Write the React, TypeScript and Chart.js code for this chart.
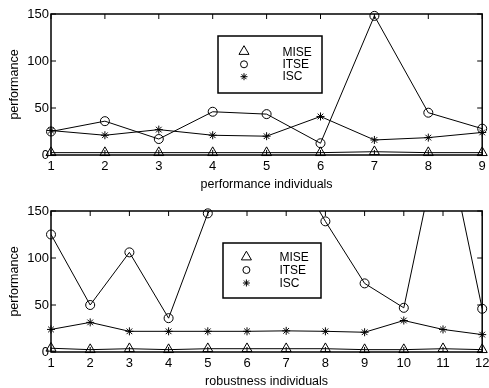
import React, { useEffect, useRef } from 'react';
import { Chart, registerables } from 'chart.js';

Chart.register(...registerables);

const seriesNames = ['MISE', 'ITSE', 'ISC'];
const seriesMarkers = ['triangle', 'circle', 'star'];
const markerRadii = [5.8, 4.5, 4];
const legendRadii = [5.8, 3.5, 3.5];
const yTicks = [0, 50, 100, 150];

const topCategories = ['1', '2', '3', '4', '5', '6', '7', '8', '9'];
const topMISE = [2.5, 2.5, 2.5, 2.5, 2.5, 2.5, 3.5, 2.5, 2.5];
const topITSE = [25, 36, 17, 46, 43.5, 12.5, 148, 45, 28];
const topISC = [26, 21, 27, 21, 20, 41, 16, 18.5, 24];

const bottomCategories = ['1', '2', '3', '4', '5', '6', '7', '8', '9', '10', '11', '12'];
const bottomMISE = [4, 2.5, 3.5, 2.5, 3.5, 3.5, 3.5, 3.5, 2.5, 2.5, 3.5, 2.5];
const bottomITSE = [125, 50, 106, 36, 147.5, 200, 210, 139, 73, 47, 245, 46];
const bottomISC = [24, 31.5, 22, 22, 22, 22, 22.5, 22, 21, 33.5, 24, 18.5];

const FONT = "'Liberation Sans', Arial, Helvetica, sans-serif";

function makeDatasets(values: number[][]) {
  const ds: any[] = [];
  values.forEach((v, i) => {
    ds.push({
      label: seriesNames[i] + ' line',
      data: v,
      borderColor: '#000',
      borderWidth: 1,
      pointRadius: 0,
      pointHoverRadius: 0,
      fill: false,
      tension: 0,
    });
  });
  values.forEach((v, i) => {
    ds.push({
      label: seriesNames[i],
      data: v,
      showLine: false,
      pointStyle: seriesMarkers[i],
      pointRadius: markerRadii[i],
      pointHoverRadius: markerRadii[i],
      pointBorderColor: '#000',
      pointBackgroundColor: 'rgba(0,0,0,0)',
      borderColor: '#000',
      backgroundColor: 'rgba(0,0,0,0)',
      pointBorderWidth: 1,
      clip: 8,
      isMarker: true,
    });
  });
  return ds;
}

function drawSymbol(ctx: CanvasRenderingContext2D, style: string, x: number, y: number, r: number) {
  ctx.beginPath();
  if (style === 'triangle') {
    ctx.moveTo(x, y - r);
    ctx.lineTo(x + 0.866 * r, y + 0.5 * r);
    ctx.lineTo(x - 0.866 * r, y + 0.5 * r);
    ctx.closePath();
  } else if (style === 'circle') {
    ctx.arc(x, y, r, 0, Math.PI * 2);
  } else {
    const d = r * 0.7071;
    ctx.moveTo(x - r, y); ctx.lineTo(x + r, y);
    ctx.moveTo(x, y - r); ctx.lineTo(x, y + r);
    ctx.moveTo(x - d, y - d); ctx.lineTo(x + d, y + d);
    ctx.moveTo(x - d, y + d); ctx.lineTo(x + d, y - d);
  }
  ctx.stroke();
}

const framePlugin = {
  id: 'frame',
  afterDatasetsDraw(chart: any) {
    const { ctx, chartArea: a, scales } = chart;
    ctx.save();
    ctx.strokeStyle = '#000';
    ctx.lineWidth = 1.5;
    ctx.strokeRect(a.left, a.top, a.right - a.left, a.bottom - a.top);
    ctx.lineWidth = 1;
    const tl = 5;
    ctx.beginPath();
    scales.x.ticks.forEach((_: any, i: number) => {
      const px = scales.x.getPixelForTick(i);
      ctx.moveTo(px, a.bottom); ctx.lineTo(px, a.bottom - tl);
      ctx.moveTo(px, a.top); ctx.lineTo(px, a.top + tl);
    });
    scales.y.ticks.forEach((t: any) => {
      const py = scales.y.getPixelForValue(t.value);
      ctx.moveTo(a.left, py); ctx.lineTo(a.left + tl, py);
      ctx.moveTo(a.right, py); ctx.lineTo(a.right - tl, py);
    });
    ctx.stroke();
    ctx.restore();
  },
};

const boxLegendPlugin = {
  id: 'boxLegend',
  afterDraw(chart: any) {
    const o = chart.options.plugins.boxLegend;
    if (!o) return;
    const { ctx, chartArea: a } = chart;
    const x0 = a.left + o.dx;
    const y0 = a.top + o.dy;
    ctx.save();
    ctx.fillStyle = '#fff';
    ctx.fillRect(x0, y0, o.w, o.h);
    ctx.strokeStyle = '#000';
    ctx.lineWidth = 1.5;
    ctx.strokeRect(x0, y0, o.w, o.h);
    ctx.lineWidth = 1;
    ctx.fillStyle = '#000';
    ctx.font = `12px ${FONT}`;
    ctx.textBaseline = 'middle';
    ctx.textAlign = 'left';
    const markers = chart.data.datasets.filter((d: any) => d.isMarker);
    markers.forEach((d: any, i: number) => {
      drawSymbol(ctx, d.pointStyle, x0 + o.symX, y0 + o.symY[i], legendRadii[i]);
      ctx.fillText(d.label, x0 + o.textX, y0 + o.textY[i]);
    });
    ctx.restore();
  },
};

function PerfChart(props: { categories: string[]; values: number[][]; xTitle: string; legend: any; top: number }) {
  const ref = useRef<HTMLCanvasElement>(null);
  useEffect(() => {
    const chart = new Chart(ref.current as HTMLCanvasElement, {
      type: 'line',
      data: { labels: props.categories, datasets: makeDatasets(props.values) },
      options: {
        animation: false,
        responsive: false,
        maintainAspectRatio: false,
        events: [],
        layout: { padding: { top: 14, right: 4, left: 0, bottom: 0 } },
        plugins: {
          legend: { display: false },
          tooltip: { enabled: false },
          boxLegend: props.legend,
        } as any,
        scales: {
          x: {
            type: 'category',
            offset: false,
            grid: { display: false, drawTicks: false },
            border: { display: false },
            ticks: { color: '#000', font: { family: FONT, size: 13 }, padding: 4, maxRotation: 0, autoSkip: false },
            title: { display: true, text: props.xTitle, color: '#000', font: { family: FONT, size: 12.5 }, padding: { top: 0, bottom: 1.5 } },
            afterFit(s: any) { s.height = 39; s.paddingLeft = 0; s.paddingRight = 0; },
          },
          y: {
            min: 0,
            max: 150,
            afterBuildTicks(s: any) { s.ticks = yTicks.map((v) => ({ value: v })); },
            grid: { display: false, drawTicks: false },
            border: { display: false },
            ticks: { color: '#000', font: { family: FONT, size: 13 }, padding: 2 },
            title: { display: true, text: 'performance', color: '#000', font: { family: FONT, size: 12.5 }, padding: { top: 7.5, bottom: 0 } },
            afterFit(s: any) { s.width = 51; s.paddingTop = 0; s.paddingBottom = 0; },
          },
        } as any,
      },
      plugins: [framePlugin, boxLegendPlugin],
    });
    return () => chart.destroy();
  }, []);
  return (
    <canvas
      ref={ref}
      width={489}
      height={194}
      style={{ position: 'absolute', left: 0, top: props.top, width: 489, height: 194 }}
    />
  );
}

export default function App() {
  return (
    <div style={{ position: 'absolute', left: 0, top: 0, width: 489, height: 388, overflow: 'hidden', background: '#fff' }}>
      <PerfChart
        categories={topCategories}
        values={[topMISE, topITSE, topISC]}
        xTitle="performance individuals"
        legend={{ dx: 167, dy: 22, w: 104, h: 57, symX: 26, symY: [15.5, 28.3, 40.7], textX: 64.4, textY: [16.7, 29, 40.7] }}
        top={0}
      />
      <PerfChart
        categories={bottomCategories}
        values={[bottomMISE, bottomITSE, bottomISC]}
        xTitle="robustness individuals"
        legend={{ dx: 172, dy: 32, w: 98, h: 55, symX: 23.4, symY: [14, 27, 40], textX: 56.4, textY: [14.5, 27.5, 40.5] }}
        top={197}
      />
    </div>
  );
}
